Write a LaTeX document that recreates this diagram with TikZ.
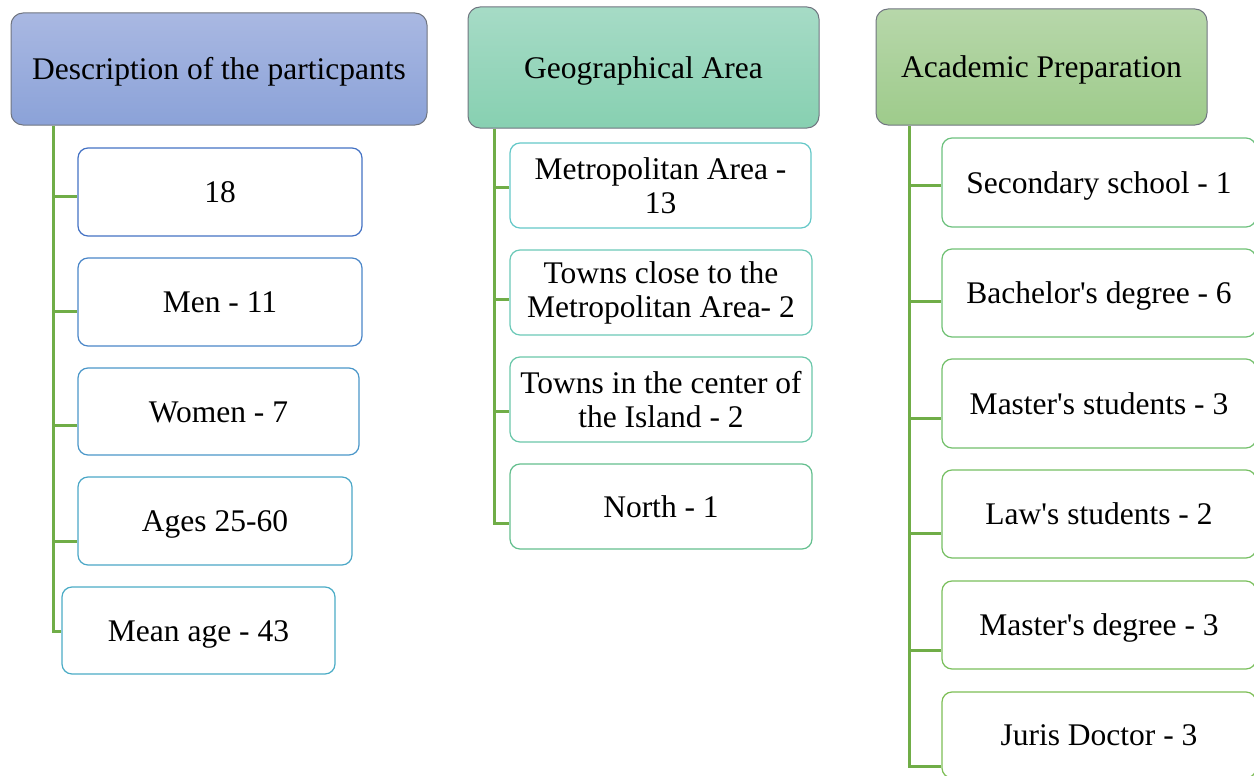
\documentclass[tikz,border=0pt]{standalone}
\usepackage{fontspec}
\setmainfont{Liberation Serif}[Ligatures=TeXOff]
\definecolor{headline}{HTML}{707580}
\definecolor{desctop}{HTML}{A9B8E2}
\definecolor{descbot}{HTML}{8BA2D8}
\definecolor{geotop}{HTML}{A6DBC6}
\definecolor{geobot}{HTML}{87D0B1}
\definecolor{acadtop}{HTML}{B7D7AA}
\definecolor{acadbot}{HTML}{9ECB8B}
\definecolor{branch}{HTML}{70AD47}
\definecolor{ca}{HTML}{4472C4}
\definecolor{cb}{HTML}{4A86C8}
\definecolor{cc}{HTML}{4B97C9}
\definecolor{cd}{HTML}{4BA7C7}
\definecolor{ce}{HTML}{4BACC6}
\definecolor{ma}{HTML}{64C8C8}
\definecolor{mb}{HTML}{6CC9B8}
\definecolor{mc}{HTML}{6AC7A9}
\definecolor{md}{HTML}{64BF8E}
\definecolor{ga}{HTML}{6DC17E}
\definecolor{gb}{HTML}{70C174}
\definecolor{gc}{HTML}{73C06B}
\definecolor{gd}{HTML}{76BF63}
\definecolor{ge}{HTML}{7ABF5C}
\definecolor{gf}{HTML}{7DBE55}
\begin{document}
\begin{tikzpicture}[x=1pt,y=-1pt,
    head/.style={draw=headline,line width=1pt,rounded corners=12pt,align=center,
      inner sep=0pt,text height=21pt,text depth=0pt,font=\fontsize{31.5}{34}\selectfont},
    item/.style={draw=#1,fill=white,line width=1.2pt,rounded corners=10pt,align=center,
      inner sep=0pt,font=\fontsize{31.5}{34}\selectfont},
    oneline/.style={text height=21pt,text depth=0pt},
    branch/.style={draw=branch,line width=3pt},
  ]
  \useasboundingbox (0,0) rectangle (1254,776);
  % headers
  \node[head,top color=desctop,bottom color=descbot,minimum width=416,minimum height=112] (desc) at (219,69) {Description of the particpants};
  \node[head,top color=geotop,bottom color=geobot,minimum width=351,minimum height=121] (geo) at (643.5,67.5) {Geographical Area};
  \node[head,top color=acadtop,bottom color=acadbot,minimum width=331,minimum height=116] (acad) at (1041.5,67) {Academic Preparation};
  % participants
  \coordinate (d1) at (53,196);
  \coordinate (d2) at (53,311);
  \coordinate (d3) at (53,425);
  \coordinate (d4) at (53,541);
  \coordinate (d5) at (53,631);
  \node[item=ca,oneline,minimum width=284,minimum height=88] (b18) at (220,192) {18};
  \node[item=cb,oneline,minimum width=284,minimum height=88] (men) at (220,302) {Men - 11};
  \node[item=cc,oneline,minimum width=281,minimum height=87] (women) at (218.5,411.5) {Women - 7};
  \node[item=cd,oneline,minimum width=274,minimum height=88] (ages) at (215,521) {Ages 25-60};
  \node[item=ce,oneline,minimum width=273,minimum height=87] (mean) at (198.5,630.5) {Mean age - 43};
  \draw[branch] (desc.south -| d5) -- (d5) -- (d5 -| mean.west);
  \draw[branch] (d1) -- (d1 -| b18.west);
  \draw[branch] (d2) -- (d2 -| men.west);
  \draw[branch] (d3) -- (d3 -| women.west);
  \draw[branch] (d4) -- (d4 -| ages.west);
  % geographical area
  \coordinate (g1) at (494,187);
  \coordinate (g2) at (494,299);
  \coordinate (g3) at (494,411);
  \coordinate (g4) at (494,523);
  \node[item=ma,minimum width=301,minimum height=85] (metro) at (660.5,185.5) {Metropolitan Area -\\13};
  \node[item=mb,minimum width=302,minimum height=85] (close) at (661,292.5) {Towns close to the\\Metropolitan Area- 2};
  \node[item=mc,minimum width=302,minimum height=85] (center) at (661,399.5) {Towns in the center of\\the Island - 2};
  \node[item=md,oneline,minimum width=302,minimum height=85] (north) at (661,506.5) {North - 1};
  \draw[branch] (geo.south -| g4) -- (g4) -- (g4 -| north.west);
  \draw[branch] (g1) -- (g1 -| metro.west);
  \draw[branch] (g2) -- (g2 -| close.west);
  \draw[branch] (g3) -- (g3 -| center.west);
  % academic preparation
  \coordinate (a1) at (909,185);
  \coordinate (a2) at (909,301);
  \coordinate (a3) at (909,418);
  \coordinate (a4) at (909,533);
  \coordinate (a5) at (909,650);
  \coordinate (a6) at (909,766);
  \node[item=ga,oneline,minimum width=314,minimum height=89] (sec) at (1099,182.5) {Secondary school - 1};
  \node[item=gb,oneline,minimum width=314,minimum height=88] (bach) at (1099,293) {Bachelor's degree - 6};
  \node[item=gc,oneline,minimum width=314,minimum height=89] (mstud) at (1099,403.5) {Master's students - 3};
  \node[item=gd,oneline,minimum width=314,minimum height=88] (law) at (1099,514) {Law's students - 2};
  \node[item=ge,oneline,minimum width=314,minimum height=88] (mdeg) at (1099,625) {Master's degree - 3};
  \node[item=gf,oneline,minimum width=314,minimum height=86] (juris) at (1099,735) {Juris Doctor - 3};
  \draw[branch] (acad.south -| a6) -- (a6) -- (a6 -| juris.west);
  \draw[branch] (a1) -- (a1 -| sec.west);
  \draw[branch] (a2) -- (a2 -| bach.west);
  \draw[branch] (a3) -- (a3 -| mstud.west);
  \draw[branch] (a4) -- (a4 -| law.west);
  \draw[branch] (a5) -- (a5 -| mdeg.west);
\end{tikzpicture}
\end{document}
